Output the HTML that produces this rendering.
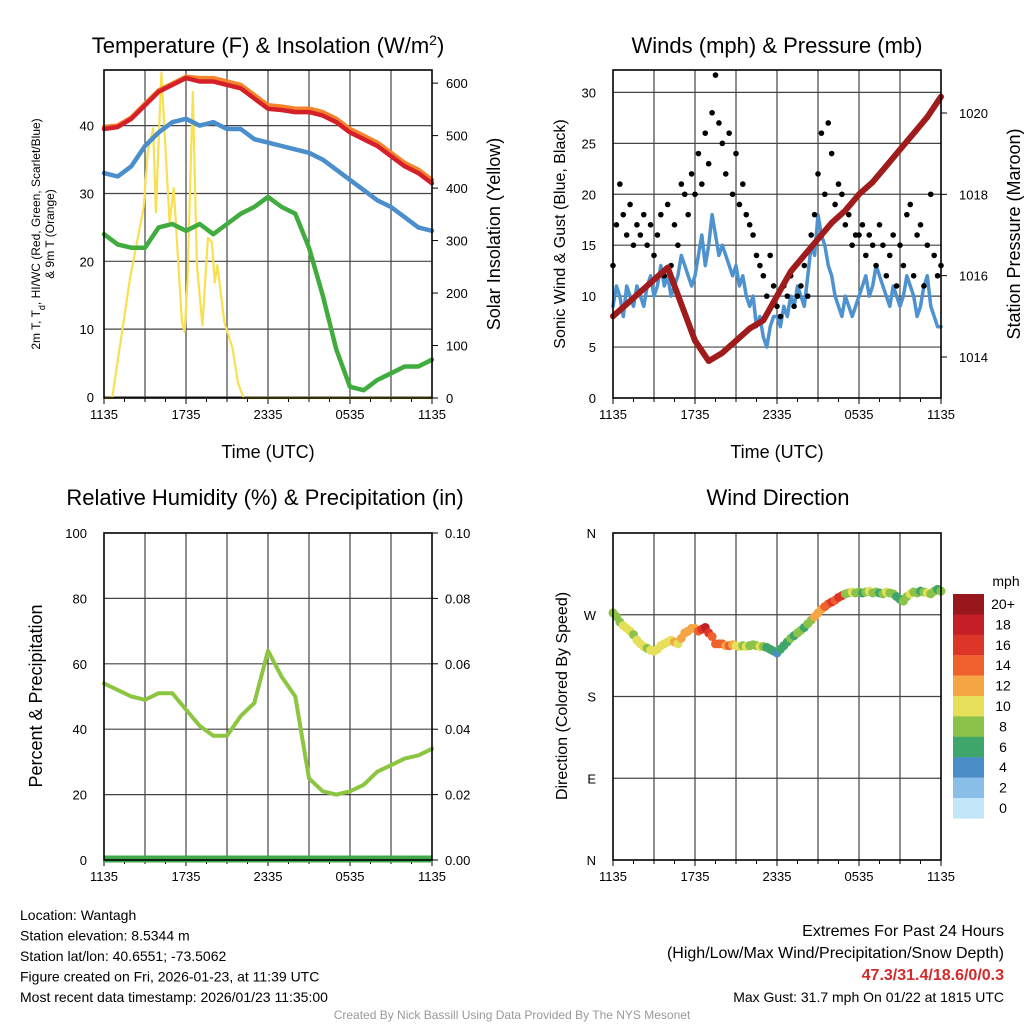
<!DOCTYPE html>
<html><head><meta charset="utf-8"><style>
body{margin:0;background:#fff;}
svg{font-family:"Liberation Sans",sans-serif;}
</style></head><body>
<svg id="s" width="1024" height="1024" viewBox="0 0 1024 1024"></svg>
<script>
// ---- data ----
const hours=[0,1,2,3,4,5,6,7,8,9,10,11,12,13,14,15,16,17,18,19,20,21,22,23,24];
const tempRed=[39.5,39.8,41,43,45,46,47,46.5,46.5,46,45.5,44,42.5,42.3,42,42,41.5,40.5,39,38,37,35.5,34,33,31.5];
const tempOrange=[39.8,40,41.2,43.2,45.2,46.2,47.2,47,47,46.5,46,44.5,43,42.8,42.5,42.5,42,41,39.5,38.5,37.5,36,34.5,33.5,32];
const tempBlue=[33,32.5,34,37,39,40.5,41,40,40.5,39.5,39.5,38,37.5,37,36.5,36,35,33.5,32,30.5,29,28,26.5,25,24.5];
const tempGreen=[24,22.5,22,22,25,25.5,24.5,25.5,24,25.5,27,28,29.5,28,27,22,15,7,1.5,1,2.5,3.5,4.5,4.5,5.5];
const solarT=[0,0.6,1.9,2.9,3.2,3.6,3.8,4.2,4.6,4.8,5.1,5.7,5.9,6.1,6.5,6.8,7.2,7.6,7.9,8.1,8.3,8.8,9.4,9.8,10.2,24];
const solarV=[0,0,228,362,468,514,354,620,425,335,400,145,126,220,583,253,139,305,297,220,253,145,95,30,0,0];
const rhV=[54,52,50,49,51,51,46,41,38,38,44,48,64,56,50,25,21,20,21,23,27,29,31,32,34];
const quarter=[];for(let i=0;i<=96;i++)quarter.push(i/4);
const windSpd=[9,11,10,8,11,10,9,11,10,9,11,12,10,11,13,11,12,10,11,12,14,13,12,11,12,14,16,13,15,18,16,14,15,14,13,12,13,11,12,10,9,10,7,8,6,5,7,8,8,7,9,8,10,9,11,10,9,12,15,14,18,16,15,13,12,10,9,8,10,9,8,9,10,11,12,10,11,13,12,11,10,9,11,10,9,10,12,11,10,8,9,11,12,9,8,7,7];
const gustSpd=[13,17,21,18,16,19,15,17,16,18,15,17,14,16,18,12,19,13,17,15,21,20,18,22,20,24,21,26,23,28,31.7,27,25,22,26,20,24,19,21,18,17,16,14,13,12,10,14,11,9,8,11,10,12,9,10,11,13,10,16,18,22,26,20,27,24,19,21,20,17,18,15,16,16,17,14,16,15,13,17,15,12,14,16,11,15,13,18,19,12,16,17,11,15,20,14,12,13];
const pressure=[1015.0,1015.3,1015.6,1015.9,1016.2,1015.3,1014.4,1013.9,1014.1,1014.4,1014.7,1014.9,1015.5,1016.1,1016.5,1016.9,1017.3,1017.6,1018.0,1018.3,1018.7,1019.1,1019.5,1019.9,1020.4];
const dirV=[272,268,262,258,255,252,248,242,238,235,233,231,230,232,236,238,240,242,240,238,244,250,252,255,255,252,254,256,250,246,238,238,238,236,236,237,236,235,236,235,236,237,236,235,235,234,232,230,228,232,236,240,244,247,250,253,256,260,264,268,272,276,279,282,284,286,289,291,293,294,295,294,295,294,295,296,294,295,294,293,295,294,293,290,287,285,290,293,295,294,296,295,294,293,296,298,296];
const dirSpd=[8,8,9,10,10,10,9,10,10,10,9,10,10,11,10,10,10,11,12,11,12,13,12,12,12,14,16,18,17,15,14,14,14,13,14,12,10,10,9,10,9,9,8,10,9,7,6,6,5,6,6,7,8,7,8,8,7,8,9,12,13,12,14,15,16,15,17,16,9,8,10,9,8,7,9,10,8,9,7,8,10,9,8,7,6,8,9,10,8,9,7,8,10,9,8,7,8];
const xTickLabels=["1135","1735","2335","0535","1135"];
const tempTicks=[0,10,20,30,40];
const solarTicks=[0,100,200,300,400,500,600];
const windTicks=[0,5,10,15,20,25,30];
const presTicks=[1014,1016,1018,1020];
const rhTicks=[0,20,40,60,80,100];
const precipTicks=["0.00","0.02","0.04","0.06","0.08","0.10"];
const dirTicks=[0,90,180,270,360];
const dirLabels=["N","E","S","W","N"];
const cbLabels=["20+","18","16","14","12","10","8","6","4","2","0"];
const cbColors=["#97171c","#c41f27","#dd3629","#ef612c","#f6a545","#e5df5a","#8bc34a","#3ea56b","#4a8dc7","#88bee7","#c2e5f7"];

// ---- drawing ----
const NS="http://www.w3.org/2000/svg";
const svg=document.getElementById('s');
function el(tag,attrs,parent){const e=document.createElementNS(NS,tag);for(const k in attrs)e.setAttribute(k,attrs[k]);(parent||svg).appendChild(e);return e;}
function txt(x,y,s,size,anchor,parent,extra){const e=el('text',Object.assign({x:x,y:y,'font-size':size,'text-anchor':anchor||'middle',fill:'#000'},extra||{}),parent);e.textContent=s;return e;}
function lin(d0,d1,r0,r1){return v=>r0+(v-d0)/(d1-d0)*(r1-r0);}

function panel(name,x0,x1,y0,y1){
  const g=el('g',{});
  
  
  return g;
}
function frame(g,x0,x1,y0,y1,yl,hgrid){
  const gx=lin(0,24,x0,x1);
  for(let h=3;h<24;h+=3){const l=el('line',{x1:gx(h),x2:gx(h),y1:y0,y2:y1,stroke:'#444','stroke-width':1.2},g);}
  hgrid.forEach(v=>{const l=el('line',{x1:x0,x2:x1,y1:yl(v),y2:yl(v),stroke:'#444','stroke-width':1.2},g);});
  for(let h=0;h<=24;h+=1.5){el('line',{x1:gx(h),x2:gx(h),y1:y1,y2:y1+(h%6==0?6:4),stroke:'#000','stroke-width':1},g);}
  xTickLabels.forEach((s,i)=>{const t=txt(gx(i*6),y1+21,s,13,'middle',g);});
  return gx;
}
function border(g,x0,x1,y0,y1){const r=el('rect',{x:x0,y:y0,width:x1-x0,height:y1-y0,fill:'none',stroke:'#000','stroke-width':1.6},g);}
function path(g,xs,ys,gx,gy,color,w,name){
  let d='';xs.forEach((t,i)=>{d+=(i?'L':'M')+gx(t).toFixed(1)+','+gy(ys[i]).toFixed(1);});
  const p=el('path',{d:d,fill:'none',stroke:color,'stroke-width':w,'stroke-linejoin':'round','stroke-linecap':'round'},g);
  return p;
}
function colorFor(s){let idx=Math.min(10,Math.floor(s/2));return cbColors[10-idx];}

// Panel 1
{
  const x0=104,x1=432,y0=70,y1=398;
  const g=panel('temperature-panel');
  const yl=lin(0,48.2,397,y0), yr=lin(0,625,398,y0);
  const gx=frame(g,x0,x1,y0,y1,yl,tempTicks);
  path(g,solarT,solarV,gx,yr,'#f9e050',2.2,'solar-insolation-line');
  path(g,hours,tempGreen,gx,yl,'#40ac3e',4.5,'dewpoint-line');
  path(g,hours,tempBlue,gx,yl,'#4a8fcb',4.5,'windchill-line');
  path(g,hours,tempOrange,gx,yl,'#f4832b',4.5,'temp-9m-line');
  path(g,hours,tempRed,gx,yl,'#d5202a',4.5,'temp-2m-line');
  border(g,x0,x1,y0,y1);
  tempTicks.forEach(v=>{const t=txt(x0-10,yl(v)+5,String(v),13,'end',g);});
  solarTicks.forEach(v=>{el('line',{x1:x1,x2:x1+6,y1:yr(v),y2:yr(v),stroke:'#000'},g);const t=txt(x1+14,yr(v)+5,String(v),13,'start',g);});
  const ti=el('text',{x:268,y:53,'font-size':22,'text-anchor':'middle'},g);ti.innerHTML='Temperature (F) &amp; Insolation (W/m<tspan baseline-shift="super" font-size="14">2</tspan>)';
  
  const xt=txt(268,458,'Time (UTC)',18,'middle',g);
  const yt=el('text',{transform:'translate(40,234) rotate(-90)','font-size':12,'text-anchor':'middle'},g);yt.innerHTML='2m T, T<tspan baseline-shift="sub" font-size="9">d</tspan>, HI/WC (Red, Green, Scarlet/Blue)';
  
  const yt2=txt(0,0,'& 9m T (Orange)',12,'middle',g,{transform:'translate(54,234) rotate(-90)'});
  const yr2=txt(0,0,'Solar Insolation (Yellow)',18,'middle',g,{transform:'translate(500,234) rotate(-90)'});
}
// Panel 2
{
  const x0=613,x1=941,y0=70,y1=398;
  const g=panel('winds-panel');
  const yl=lin(0,32.2,398,y0), yr=lin(1014,1020,357,113);
  const gx=frame(g,x0,x1,y0,y1,yl,windTicks.slice(1));
  path(g,quarter,windSpd,gx,yl,'#4e93cf',3.5,'sonic-wind-line');
  quarter.forEach((t,i)=>{const c=el('circle',{cx:gx(t),cy:yl(gustSpd[i]),r:2.8,fill:'#000'},g);});
  path(g,hours,pressure,gx,yr,'#a01c1c',6,'pressure-line');
  border(g,x0,x1,y0,y1);
  windTicks.forEach(v=>{const t=txt(x0-17,yl(v)+5,String(v),13,'end',g);});
  presTicks.forEach(v=>{el('line',{x1:x1,x2:x1+6,y1:yr(v),y2:yr(v),stroke:'#000'},g);const t=txt(x1+18,yr(v)+5,String(v),13,'start',g);});
  const ti=txt(777,53,'Winds (mph) & Pressure (mb)',22,'middle',g);
  const xt=txt(777,458,'Time (UTC)',18,'middle',g);
  const yt=txt(0,0,'Sonic Wind & Gust (Blue, Black)',16,'middle',g,{transform:'translate(565,234) rotate(-90)'});
  const yt2=txt(0,0,'Station Pressure (Maroon)',18,'middle',g,{transform:'translate(1020,234) rotate(-90)'});
}
// Panel 3
{
  const x0=104,x1=432,y0=533,y1=860;
  const g=panel('humidity-panel');
  const yl=lin(0,100,y1,y0);
  const gx=frame(g,x0,x1,y0,y1,yl,[20,40,60,80]);
  path(g,hours,rhV,gx,yl,'#8cc641',4,'relative-humidity-line');
  const pr=el('line',{x1:x0,x2:x1,y1:y1-1,y2:y1-1,stroke:'#3fa84a','stroke-width':7},g);
  border(g,x0,x1,y0,y1);
  rhTicks.forEach(v=>{const t=txt(x0-17,yl(v)+5,String(v),13,'end',g);});
  precipTicks.forEach((s,i)=>{el('line',{x1:x1,x2:x1+6,y1:yl(i*20),y2:yl(i*20),stroke:'#000'},g);const t=txt(x1+13,yl(i*20)+5,s,13,'start',g);});
  const ti=txt(265,505,'Relative Humidity (%) & Precipitation (in)',22,'middle',g);
  const yt=txt(0,0,'Percent & Precipitation',18,'middle',g,{transform:'translate(42,696) rotate(-90)'});
}
// Panel 4
{
  const x0=613,x1=941,y0=533,y1=860;
  const g=panel('wind-direction-panel');
  const yl=lin(0,360,y1,y0);
  const gx=frame(g,x0,x1,y0,y1,yl,[90,180,270]);
  quarter.forEach((t,i)=>{const c=el('circle',{cx:gx(t),cy:yl(dirV[i]),r:4.5,fill:colorFor(dirSpd[i])},g);});
  border(g,x0,x1,y0,y1);
  dirTicks.forEach((v,i)=>{const t=txt(x0-17,yl(v)+5,dirLabels[i],13,'end',g);});
  const ti=txt(778,505,'Wind Direction',22,'middle',g);
  const yt=txt(0,0,'Direction (Colored By Speed)',16,'middle',g,{transform:'translate(567,696) rotate(-90)'});
  const cb=el('g',{},g);
  cbColors.forEach((c,i)=>{el('rect',{x:953,y:594+i*20.4,width:31,height:20.6,fill:c},cb);const t=txt(1003,594+i*20.4+15,cbLabels[i],14,'middle',cb);});
  const m=txt(1006,586,'mph',14,'middle',cb);
}
// Footer text
const leftLines=["Location: Wantagh","Station elevation: 8.5344 m","Station lat/lon: 40.6551; -73.5062","Figure created on Fri, 2026-01-23, at 11:39 UTC","Most recent data timestamp: 2026/01/23 11:35:00"];
leftLines.forEach((s,i)=>{const t=txt(20,920+i*20.5,s,14,'start');});
const r1=txt(1004,936,'Extremes For Past 24 Hours',16,'end');
const r2=txt(1004,958,'(High/Low/Max Wind/Precipitation/Snow Depth)',16,'end');
const r3=txt(1004,980,'47.3/31.4/18.6/0/0.3',16,'end',null,{fill:'#d42a2a','font-weight':'bold'});
const r4=txt(1004,1002,'Max Gust: 31.7 mph On 01/22 at 1815 UTC',14,'end');
const cr=txt(512,1019,'Created By Nick Bassill Using Data Provided By The NYS Mesonet',12,'middle',null,{fill:'#999'});
</script>
</body></html>
